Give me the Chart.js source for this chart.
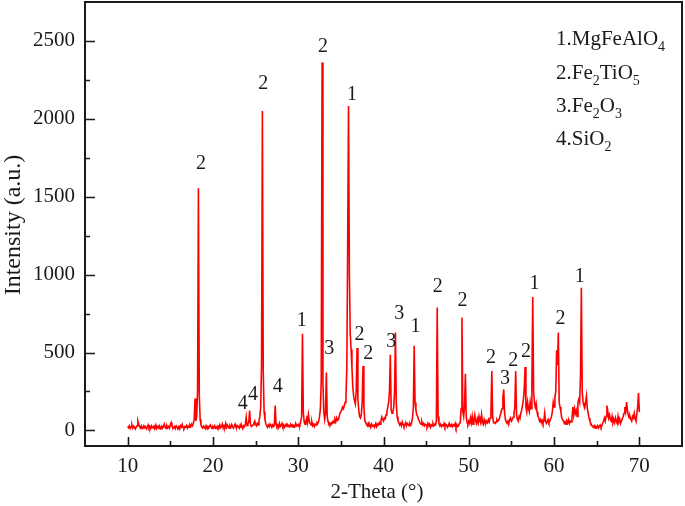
<!DOCTYPE html>
<html><head><meta charset="utf-8">
<script src="https://cdn.jsdelivr.net/npm/chart.js@4/dist/chart.umd.min.js"></script>
<style>html,body{margin:0;padding:0;background:#fff}#wrap{width:685px;height:506px}</style>
</head><body><div id="wrap"><canvas id="c" width="685" height="506"></canvas></div>
<script>
// 2-Theta grid: 10.0 .. 70.0 in 0.1 degree steps
const thetaStart = 10.0;
const thetaStep = 0.1;
// Intensity (one row per degree, values at .0 .. .9)
const intensity = [
 25,18,30,12,22,35,15,28,20,10,
 22,30,60,40,25,15,28,12,20,30,
 18,25,10,22,35,15,25,12,30,20,
 15,28,20,35,12,25,18,30,10,22,
 28,15,25,40,20,12,30,18,25,15,
 35,50,30,20,15,25,12,28,20,15,
 25,10,30,22,38,18,12,25,20,30,
 15,28,20,35,25,40,30,45,70,205,
 60,90,260,1555,230,70,35,20,15,28,
 22,12,30,18,25,15,28,35,20,12,
 25,18,30,15,22,12,28,20,35,18,
 25,40,15,30,22,45,20,35,25,15,
 30,20,38,25,15,28,40,22,18,30,
 25,15,35,20,28,12,30,25,40,85,
 30,45,50,128,40,25,30,35,45,60,
 40,30,45,35,60,90,150,420,2050,380,
 120,70,45,30,20,35,25,40,30,20,
 35,25,30,160,40,25,35,20,45,25,
 30,45,25,35,20,30,40,25,35,28,
 22,40,28,35,20,30,25,45,30,35,
 28,40,35,60,90,621,110,55,40,60,
 80,50,100,60,45,35,55,30,40,25,
 40,35,50,45,60,90,140,320,2361,300,
 120,70,110,371,90,55,40,45,35,50,
 45,60,50,70,55,80,65,70,90,110,
 110,130,150,140,160,180,220,400,1200,2082,
 1000,620,520,400,280,220,190,170,250,529,
 200,130,90,80,100,180,413,150,70,50,
 40,30,45,25,35,20,40,30,25,35,
 30,45,25,40,35,50,40,60,85,70,
 60,80,75,100,120,150,180,250,486,130,
 110,120,150,250,628,170,90,60,50,35,
 45,30,55,40,25,35,50,30,45,40,
 30,45,35,50,80,150,544,180,130,100,
 90,70,60,45,40,55,35,45,30,40,
 35,25,45,30,40,20,35,28,45,30,
 40,35,60,789,90,45,30,40,25,35,
 30,45,25,40,35,20,30,45,25,35,
 40,25,35,30,45,20,38,25,30,45,
 50,140,724,120,90,150,364,90,50,40,
 60,45,80,50,90,40,70,100,60,45,
 75,50,90,60,45,100,55,40,70,50,
 45,60,50,70,55,80,120,381,90,50,
 50,45,55,70,60,65,80,100,120,140,
 214,263,110,70,55,45,60,50,70,80,
 60,70,85,110,150,381,100,70,60,90,
 80,110,130,160,200,260,407,150,120,180,
 140,120,182,140,300,857,250,180,150,173,
 120,90,80,60,70,50,65,45,60,111,
 60,45,55,70,50,60,75,90,120,180,
 150,214,250,514,420,628,180,150,120,80,
 70,60,45,55,40,60,50,70,45,60,
 55,80,150,100,140,110,130,90,180,200,
 180,350,915,250,180,160,150,180,220,140,
 110,80,60,45,35,25,20,30,15,25,
 20,30,15,25,35,20,30,45,60,80,
 60,90,160,120,80,100,70,60,90,50,
 70,50,80,60,45,90,55,70,45,60,
 75,90,110,150,120,182,130,100,80,90,
 70,60,90,80,110,75,60,100,150,240,
 118
];
const xTickValues = [10,15,20,25,30,35,40,45,50,55,60,65,70];
const xTickLabels = ["10","","20","","30","","40","","50","","60","","70"];
const yTickValues = [0,250,500,750,1000,1250,1500,1750,2000,2250,2500];
const yTickLabels = ["0","","500","","1000","","1500","","2000","","2500"];
// peak phase labels (position in data units)
const peakLabelX = [18.6,25.9,32.9,36.3,23.5,24.7,27.6,30.4,33.65,37.2,38.2,40.9,41.85,43.75,46.35,49.25,52.6,54.25,55.2,56.7,57.7,60.75,63.0];
const peakLabelY = [1710,2228,2463,2153,171,231,278,707,525,611,493,568,750,664,921,835,469,332,450,503,943,718,985];
const peakLabelText = ["2","2","2","1","4","4","4","1","3","2","2","3","3","1","2","2","2","3","2","2","1","2","1"];
const legendItems = ["1.MgFeAlO_4","2.Fe_2TiO_5","3.Fe_2O_3","4.SiO_2"];
const xTitle = "2-Theta (°)";
const yTitle = "Intensity (a.u.)";

const points = intensity.map((v,i)=>({x: +(thetaStart + i*thetaStep).toFixed(1), y: v}));
const FONT = "'Liberation Serif','Times New Roman',serif";
const INK = '#1a1a1a';

const decor = {
  id:'decor',
  afterDraw(chart){
    const ctx = chart.ctx, a = chart.chartArea;
    const xs = chart.scales.x, ys = chart.scales.y;
    ctx.save();
    ctx.strokeStyle = INK; ctx.lineWidth = 2;
    ctx.strokeRect(a.left, a.top, a.right - a.left, a.bottom - a.top);
    ctx.lineWidth = 1.6;
    ctx.beginPath();
    xTickValues.forEach((v,i)=>{
      const px = Math.round(xs.getPixelForValue(v)) + 0.5;
      const len = xTickLabels[i] ? 9 : 5;
      ctx.moveTo(px, a.bottom); ctx.lineTo(px, a.bottom - len);
    });
    yTickValues.forEach((v,i)=>{
      const py = Math.round(ys.getPixelForValue(v)) + 0.5;
      const len = yTickLabels[i] ? 10 : 5;
      ctx.moveTo(a.left, py); ctx.lineTo(a.left + len, py);
    });
    ctx.stroke();
    ctx.fillStyle = INK;
    // peak labels
    ctx.font = '20px ' + FONT;
    ctx.textAlign = 'center'; ctx.textBaseline = 'middle';
    peakLabelText.forEach((t,i)=>{
      ctx.fillText(t, xs.getPixelForValue(peakLabelX[i]), ys.getPixelForValue(peakLabelY[i]));
    });
    // legend with subscripts
    ctx.textAlign = 'left'; ctx.textBaseline = 'alphabetic';
    const baseY = [45,79,112,145];
    legendItems.forEach((s,i)=>{
      let x = 556; const y = baseY[i];
      const parts = s.split(/(_\d)/).filter(p=>p.length);
      parts.forEach(p=>{
        if (p[0]==='_'){
          ctx.font = '14px ' + FONT;
          ctx.fillText(p.slice(1), x, y + 6);
          x += ctx.measureText(p.slice(1)).width;
        } else {
          ctx.font = '21px ' + FONT;
          ctx.fillText(p, x, y);
          x += ctx.measureText(p).width;
        }
      });
    });
    // axis titles
    ctx.font = '21px ' + FONT;
    ctx.textAlign = 'center'; ctx.textBaseline = 'middle';
    ctx.fillText(xTitle, 377, 492);
    ctx.save();
    ctx.translate(14, 225); ctx.rotate(-Math.PI/2);
    ctx.font = '24px ' + FONT;
    ctx.fillText(yTitle, 0, 0);
    ctx.restore();
    ctx.restore();
  }
};

new Chart(document.getElementById('c'), {
  type:'line',
  data:{datasets:[{data:points, borderColor:'#ff0000', borderWidth:1.6, pointRadius:0, tension:0, fill:false}]},
  options:{
    responsive:false, animation:false, parsing:true,
    layout:{padding:{top:2,right:3,left:0,bottom:0}},
    plugins:{legend:{display:false}, tooltip:{enabled:false}},
    scales:{
      x:{type:'linear', min:5, max:75,
        afterBuildTicks:(s)=>{ s.ticks = xTickValues.map(v=>({value:v})); },
        afterFit:(s)=>{ s.height = 60; s.paddingLeft = 0; s.paddingRight = 0; },
        grid:{display:false, drawTicks:false}, border:{display:false},
        ticks:{padding:8, color:INK, font:{family:FONT, size:21}, maxRotation:0, autoSkip:false,
          callback:(v)=>{ const i = xTickValues.indexOf(v); return i>=0 ? xTickLabels[i] : ''; }}
      },
      y:{type:'linear', min:-100, max:2750,
        afterBuildTicks:(s)=>{ s.ticks = yTickValues.map(v=>({value:v})); },
        afterFit:(s)=>{ s.width = 85; s.paddingTop = 0; s.paddingBottom = 0; },
        grid:{display:false, drawTicks:false}, border:{display:false},
        ticks:{padding:10, color:INK, font:{family:FONT, size:21}, autoSkip:false,
          callback:(v)=>{ const i = yTickValues.indexOf(v); return i>=0 ? yTickLabels[i] : ''; }}
      }
    }
  },
  plugins:[decor]
});
</script></body></html>
